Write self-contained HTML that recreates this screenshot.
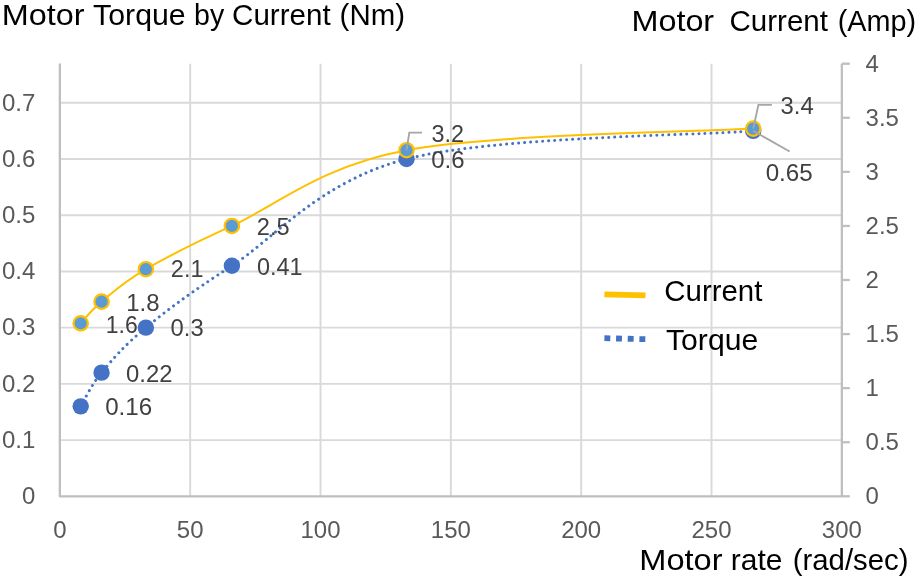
<!DOCTYPE html>
<html lang="en">
<head>
<meta charset="utf-8">
<title>Motor Torque by Current</title>
<style>
html,body{margin:0;padding:0;background:#fff;overflow:hidden}
svg{display:block}
text{font-family:"Liberation Sans",sans-serif}
</style>
</head>
<body>
<svg width="918" height="579" viewBox="0 0 918 579">
<rect width="918" height="579" fill="#fff"/>
<g stroke="#D9D9D9" stroke-width="1.90">
<line x1="59.85" y1="440.09" x2="841.85" y2="440.09"/>
<line x1="59.85" y1="383.87" x2="841.85" y2="383.87"/>
<line x1="59.85" y1="327.66" x2="841.85" y2="327.66"/>
<line x1="59.85" y1="271.44" x2="841.85" y2="271.44"/>
<line x1="59.85" y1="215.23" x2="841.85" y2="215.23"/>
<line x1="59.85" y1="159.01" x2="841.85" y2="159.01"/>
<line x1="59.85" y1="102.80" x2="841.85" y2="102.80"/>
<line x1="190.18" y1="63.70" x2="190.18" y2="496.30"/>
<line x1="320.52" y1="63.70" x2="320.52" y2="496.30"/>
<line x1="450.85" y1="63.70" x2="450.85" y2="496.30"/>
<line x1="581.18" y1="63.70" x2="581.18" y2="496.30"/>
<line x1="711.52" y1="63.70" x2="711.52" y2="496.30"/>
</g>
<g stroke="#BFBFBF" stroke-width="2.30" fill="none">
<polyline points="59.85,63.40 59.85,496.30 841.85,496.30 841.85,63.70" stroke-linejoin="round"/>
<line x1="841.85" y1="496.30" x2="849.8" y2="496.30"/>
<line x1="841.85" y1="442.23" x2="849.8" y2="442.23"/>
<line x1="841.85" y1="388.15" x2="849.8" y2="388.15"/>
<line x1="841.85" y1="334.07" x2="849.8" y2="334.07"/>
<line x1="841.85" y1="280.00" x2="849.8" y2="280.00"/>
<line x1="841.85" y1="225.93" x2="849.8" y2="225.93"/>
<line x1="841.85" y1="171.85" x2="849.8" y2="171.85"/>
<line x1="841.85" y1="117.77" x2="849.8" y2="117.77"/>
<line x1="841.85" y1="63.70" x2="849.8" y2="63.70"/>
</g>
<g font-size="23.20" fill="#595959">
<text x="21.95" y="504.10" textLength="13.35" lengthAdjust="spacingAndGlyphs">0</text>
<text x="1.94" y="447.89" textLength="33.36" lengthAdjust="spacingAndGlyphs">0.1</text>
<text x="1.94" y="391.67" textLength="33.36" lengthAdjust="spacingAndGlyphs">0.2</text>
<text x="1.94" y="335.46" textLength="33.36" lengthAdjust="spacingAndGlyphs">0.3</text>
<text x="1.94" y="279.24" textLength="33.36" lengthAdjust="spacingAndGlyphs">0.4</text>
<text x="1.94" y="223.03" textLength="33.36" lengthAdjust="spacingAndGlyphs">0.5</text>
<text x="1.94" y="166.81" textLength="33.36" lengthAdjust="spacingAndGlyphs">0.6</text>
<text x="1.94" y="110.60" textLength="33.36" lengthAdjust="spacingAndGlyphs">0.7</text>
<text x="865.60" y="504.40" textLength="13.35" lengthAdjust="spacingAndGlyphs">0</text>
<text x="865.60" y="450.33" textLength="33.36" lengthAdjust="spacingAndGlyphs">0.5</text>
<text x="865.60" y="396.25" textLength="13.35" lengthAdjust="spacingAndGlyphs">1</text>
<text x="865.60" y="342.18" textLength="33.36" lengthAdjust="spacingAndGlyphs">1.5</text>
<text x="865.60" y="288.10" textLength="13.35" lengthAdjust="spacingAndGlyphs">2</text>
<text x="865.60" y="234.03" textLength="33.36" lengthAdjust="spacingAndGlyphs">2.5</text>
<text x="865.60" y="179.95" textLength="13.35" lengthAdjust="spacingAndGlyphs">3</text>
<text x="865.60" y="125.87" textLength="33.36" lengthAdjust="spacingAndGlyphs">3.5</text>
<text x="865.60" y="71.80" textLength="13.35" lengthAdjust="spacingAndGlyphs">4</text>
<text x="53.18" y="538.30" textLength="13.35" lengthAdjust="spacingAndGlyphs">0</text>
<text x="176.84" y="538.30" textLength="26.70" lengthAdjust="spacingAndGlyphs">50</text>
<text x="300.50" y="538.30" textLength="40.04" lengthAdjust="spacingAndGlyphs">100</text>
<text x="430.83" y="538.30" textLength="40.04" lengthAdjust="spacingAndGlyphs">150</text>
<text x="561.16" y="538.30" textLength="40.04" lengthAdjust="spacingAndGlyphs">200</text>
<text x="691.50" y="538.30" textLength="40.04" lengthAdjust="spacingAndGlyphs">250</text>
<text x="821.83" y="538.30" textLength="40.04" lengthAdjust="spacingAndGlyphs">300</text>
</g>
<path d="M80.70,406.36 C84.18,400.74 90.70,385.75 101.56,372.63 C112.42,359.51 124.15,345.46 145.87,327.66 C167.59,309.86 188.45,293.93 231.89,265.82 C275.33,237.71 319.65,181.50 406.54,159.01 C493.43,136.53 695.44,135.59 753.22,130.91" fill="none" stroke="#4472C4" stroke-width="3" stroke-linecap="round" stroke-dasharray="0.01 6"/>
<circle cx="80.70" cy="406.36" r="8.2" fill="#4472C4"/>
<circle cx="101.56" cy="372.63" r="8.2" fill="#4472C4"/>
<circle cx="145.87" cy="327.66" r="8.2" fill="#4472C4"/>
<circle cx="231.89" cy="265.82" r="8.2" fill="#4472C4"/>
<circle cx="406.54" cy="159.01" r="8.2" fill="#4472C4"/>
<circle cx="753.22" cy="130.91" r="8.2" fill="#4472C4"/>
<path d="M80.70,323.26 C84.18,319.65 90.70,310.64 101.56,301.63 C112.42,292.62 124.15,281.80 145.87,269.19 C167.59,256.57 188.45,245.75 231.89,225.93 C275.33,206.10 319.65,166.44 406.54,150.22 C493.43,134.00 695.44,132.19 753.22,128.59" fill="none" stroke="#FFC000" stroke-width="2"/>
<circle cx="80.70" cy="323.26" r="7.2" fill="#5B9BD5" stroke="#FFC000" stroke-width="2.2"/>
<circle cx="101.56" cy="301.63" r="7.2" fill="#5B9BD5" stroke="#FFC000" stroke-width="2.2"/>
<circle cx="145.87" cy="269.19" r="7.2" fill="#5B9BD5" stroke="#FFC000" stroke-width="2.2"/>
<circle cx="231.89" cy="225.93" r="7.2" fill="#5B9BD5" stroke="#FFC000" stroke-width="2.2"/>
<circle cx="406.54" cy="150.22" r="7.2" fill="#5B9BD5" stroke="#FFC000" stroke-width="2.2"/>
<circle cx="753.22" cy="128.59" r="7.2" fill="#5B9BD5" stroke="#FFC000" stroke-width="2.2"/>
<g fill="none" stroke="#A6A6A6" stroke-width="1.9">
<polyline points="406.54,150.22 409.3,132.6 422,132.6"/>
<polyline points="753.22,128.59 758.4,104.9 771.9,104.9"/>
<polyline points="753.22,130.91 789.7,151.5"/>
</g>
<text y="415.20" font-size="23.20" fill="#404040"><tspan x="105.16" textLength="47.08" lengthAdjust="spacingAndGlyphs">0.16</tspan></text>
<text y="381.60" font-size="23.20" fill="#404040"><tspan x="126.07" textLength="46.46" lengthAdjust="spacingAndGlyphs">0.22</tspan></text>
<text y="336.40" font-size="23.20" fill="#404040"><tspan x="170.58" textLength="33.05" lengthAdjust="spacingAndGlyphs">0.3</tspan></text>
<text y="274.60" font-size="23.20" fill="#404040"><tspan x="256.99" textLength="45.62" lengthAdjust="spacingAndGlyphs">0.41</tspan></text>
<text y="167.80" font-size="23.20" fill="#404040"><tspan x="431.17" textLength="33.37" lengthAdjust="spacingAndGlyphs">0.6</tspan></text>
<text y="180.70" font-size="23.20" fill="#404040"><tspan x="765.66" textLength="47.08" lengthAdjust="spacingAndGlyphs">0.65</tspan></text>
<text y="332.50" font-size="23.20" fill="#404040"><tspan x="105.81" textLength="31.98" lengthAdjust="spacingAndGlyphs">1.6</tspan></text>
<text y="310.70" font-size="23.20" fill="#404040"><tspan x="126.25" textLength="33.29" lengthAdjust="spacingAndGlyphs">1.8</tspan></text>
<text y="277.30" font-size="23.20" fill="#404040"><tspan x="170.89" textLength="32.52" lengthAdjust="spacingAndGlyphs">2.1</tspan></text>
<text y="234.50" font-size="23.20" fill="#404040"><tspan x="256.78" textLength="32.84" lengthAdjust="spacingAndGlyphs">2.5</tspan></text>
<text y="141.70" font-size="23.20" fill="#404040"><tspan x="431.59" textLength="32.52" lengthAdjust="spacingAndGlyphs">3.2</tspan></text>
<text y="114.20" font-size="23.20" fill="#404040"><tspan x="780.58" textLength="33.14" lengthAdjust="spacingAndGlyphs">3.4</tspan></text>
<line x1="604.4" y1="294.4" x2="645.5" y2="295.4" stroke="#FFC000" stroke-width="5.8"/>
<line x1="604.4" y1="338.2" x2="645.5" y2="339.2" stroke="#4472C4" stroke-width="5.8" stroke-dasharray="5.9 5.77"/>
<text y="300.90" font-size="29.50" fill="#000"><tspan x="664.32" textLength="98.08" lengthAdjust="spacingAndGlyphs">Current</tspan></text>
<text y="350.30" font-size="29.50" fill="#000"><tspan x="666.03" textLength="92.19" lengthAdjust="spacingAndGlyphs">Torque</tspan></text>
<text y="24.50" font-size="29.50" fill="#000"><tspan x="1.87" textLength="82.79" lengthAdjust="spacingAndGlyphs">Motor</tspan> <tspan x="93.13" textLength="92.50" lengthAdjust="spacingAndGlyphs">Torque</tspan> <tspan x="194.11" textLength="30.19" lengthAdjust="spacingAndGlyphs">by</tspan> <tspan x="232.12" textLength="98.48" lengthAdjust="spacingAndGlyphs">Current</tspan> <tspan x="339.62" textLength="65.40" lengthAdjust="spacingAndGlyphs">(Nm)</tspan></text>
<text y="30.80" font-size="29.50" fill="#000"><tspan x="631.47" textLength="82.69" lengthAdjust="spacingAndGlyphs">Motor</tspan>  <tspan x="729.52" textLength="98.38" lengthAdjust="spacingAndGlyphs">Current</tspan> <tspan x="837.75" textLength="78.34" lengthAdjust="spacingAndGlyphs">(Amp)</tspan></text>
<text y="569.70" font-size="29.50" fill="#000"><tspan x="639.36" textLength="83.20" lengthAdjust="spacingAndGlyphs">Motor</tspan> <tspan x="730.83" textLength="51.69" lengthAdjust="spacingAndGlyphs">rate</tspan> <tspan x="792.72" textLength="115.79" lengthAdjust="spacingAndGlyphs">(rad/sec)</tspan></text>
</svg>
</body>
</html>
